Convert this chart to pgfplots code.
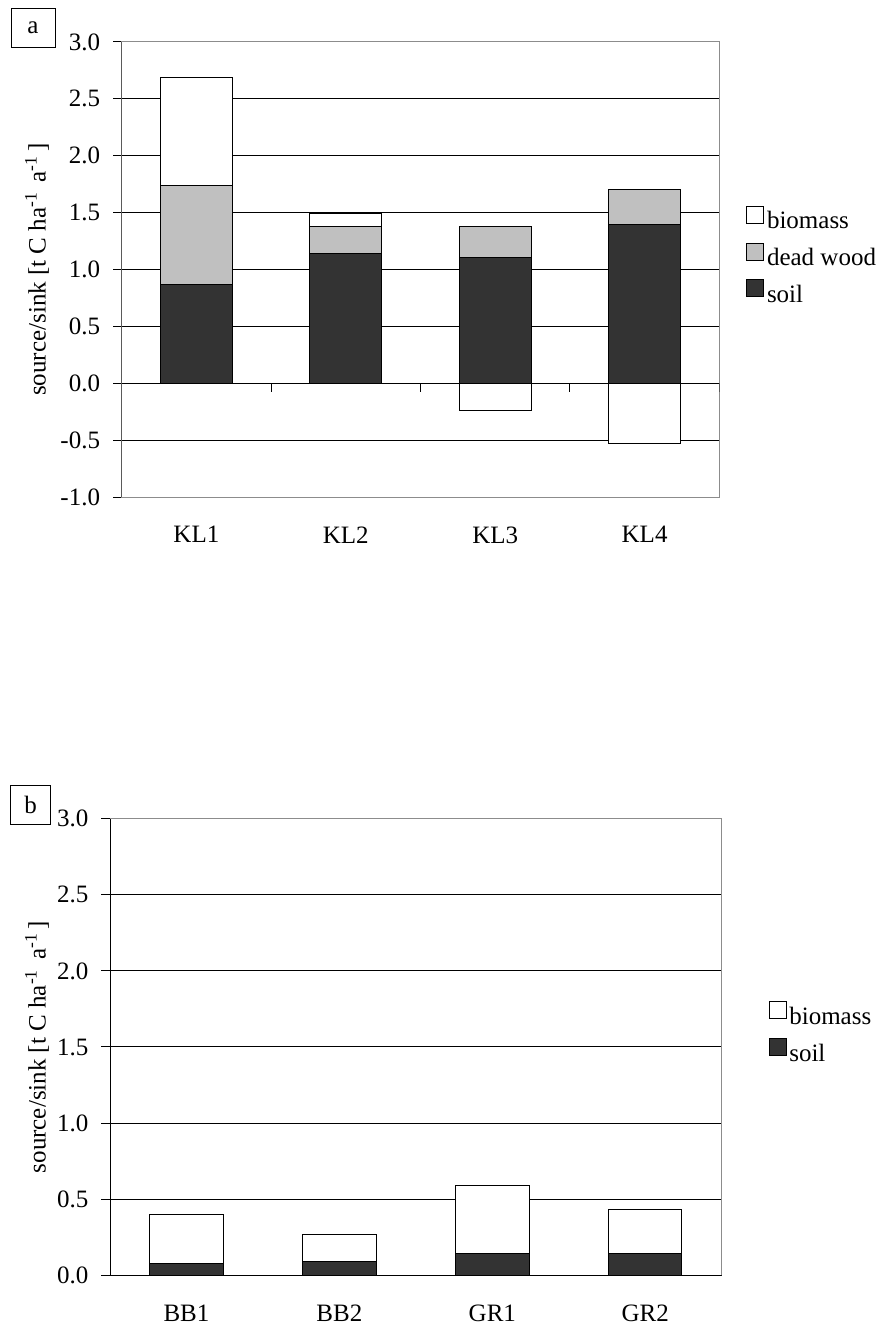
\documentclass[border=0pt]{standalone}
\usepackage{fontspec}
\setmainfont{Liberation Serif}
\usepackage{pgfplots}
\pgfplotsset{compat=1.18}
\definecolor{soilc}{HTML}{333333}
\definecolor{deadc}{HTML}{C0C0C0}
\definecolor{borderc}{HTML}{8C8C8C}
\pgfplotsset{
  mystyle/.style={
    scale only axis,
    xmin=-0.5, xmax=3.5,
    xtick={0,1,2,3},
    x tick style={draw=none},
    ytick distance=0.5,
    ytick pos=left,
    tick align=outside,
    major tick length=8.5bp,
    y tick style={black, line width=1bp},
    ymajorgrids,
    grid style={black, line width=1bp},
    axis line style={borderc, line width=1bp},
    /pgf/number format/assume math mode=true,
    yticklabel style={/pgf/number format/.cd, fixed, fixed zerofill, precision=1, /tikz/.cd, inner sep=0pt, anchor=east, xshift=-13bp},
    xticklabel style={inner sep=0pt, anchor=north, yshift=-20.5bp},
    legend cell align=left,
    legend style={draw=none, fill=none, inner sep=0pt, row sep=10bp, column sep=3bp, nodes={inner sep=0pt}},
    legend image code/.code={\draw[#1, draw=black, line width=0.8bp] (0bp,-1bp) rectangle (17bp,16bp);},
    bars/.style={ybar, bar width=0.48, bar shift=0pt, draw=black, line width=1bp},
  }
}
\begin{document}
\fontsize{25bp}{30bp}\selectfont
\begin{tikzpicture}
\useasboundingbox (0,0) rectangle (884bp,1328bp);
% panel a
\begin{axis}[mystyle, at={(121.7bp,830.7bp)}, anchor=south west,
  width=597.6bp, height=455.3bp, ymin=-1, ymax=3,
  xticklabels={KL1,KL2,KL3,KL4},
  ylabel={source/sink [t C ha\textsuperscript{-1} \,a\textsuperscript{-1}\,]},
  ylabel style={at={(axis description cs:-0.1417,0.5)}, anchor=center},
  legend style={at={(axis description cs:1.0447,0.530)}, anchor=west}]
\addplot[bars, fill=white] coordinates {(0,2.69) (1,1.49)};
\addlegendentry{biomass}
\addplot[bars, fill=white, forget plot] coordinates {(2,-0.24) (3,-0.53)};
\addplot[bars, fill=deadc] coordinates {(0,1.74) (1,1.38) (2,1.38) (3,1.70)};
\addlegendentry{dead wood}
\addplot[bars, fill=soilc] coordinates {(0,0.87) (1,1.14) (2,1.11) (3,1.40)};
\addlegendentry{soil}
\draw[borderc, line width=1bp] (rel axis cs:0,1) -- (rel axis cs:1,1);
\draw[borderc, line width=1bp] (rel axis cs:0,0) -- (rel axis cs:1,0);
\draw[black, line width=1bp] (rel axis cs:0,0) -- (rel axis cs:0,1);
\draw[black, line width=1bp] (axis cs:-0.5,0) -- (axis cs:3.5,0);
\pgfplotsinvokeforeach{0.5,1.5,2.5,3.5}{\draw[black, line width=1bp] (axis cs:#1,0) -- ([yshift=-8.5bp]axis cs:#1,0);}
\end{axis}
\node[draw, line width=0.8bp, minimum width=44bp, minimum height=39bp, inner sep=0pt] at (33bp,1300.5bp) {a};
% panel b
\begin{axis}[mystyle, at={(110bp,52.7bp)}, anchor=south west,
  width=611.7bp, height=456.6bp, ymin=0, ymax=3,
  xticklabels={BB1,BB2,GR1,GR2},
  ylabel={source/sink [t C ha\textsuperscript{-1} \,a\textsuperscript{-1}\,]},
  ylabel style={at={(axis description cs:-0.1193,0.5)}, anchor=center},
  legend style={at={(axis description cs:1.0762,0.530)}, anchor=west}]
\addplot[bars, fill=white] coordinates {(0,0.40) (1,0.27) (2,0.59) (3,0.43)};
\addlegendentry{biomass}
\addplot[bars, fill=soilc] coordinates {(0,0.08) (1,0.09) (2,0.14) (3,0.14)};
\addlegendentry{soil}
\draw[borderc, line width=1bp] (rel axis cs:0,1) -- (rel axis cs:1,1);
\draw[black, line width=1bp] (rel axis cs:0,0) -- (rel axis cs:1,0);
\draw[black, line width=1bp] (rel axis cs:0,0) -- (rel axis cs:0,1);
\pgfplotsinvokeforeach{-0.5,0.5,1.5,2.5,3.5}{\draw[black, line width=1bp] (axis cs:#1,0) -- ([yshift=-8.5bp]axis cs:#1,0);}
\end{axis}
\node[draw, line width=0.8bp, minimum width=40bp, minimum height=39bp, inner sep=0pt] at (30.7bp,523.3bp) {b};
\end{tikzpicture}
\end{document}
